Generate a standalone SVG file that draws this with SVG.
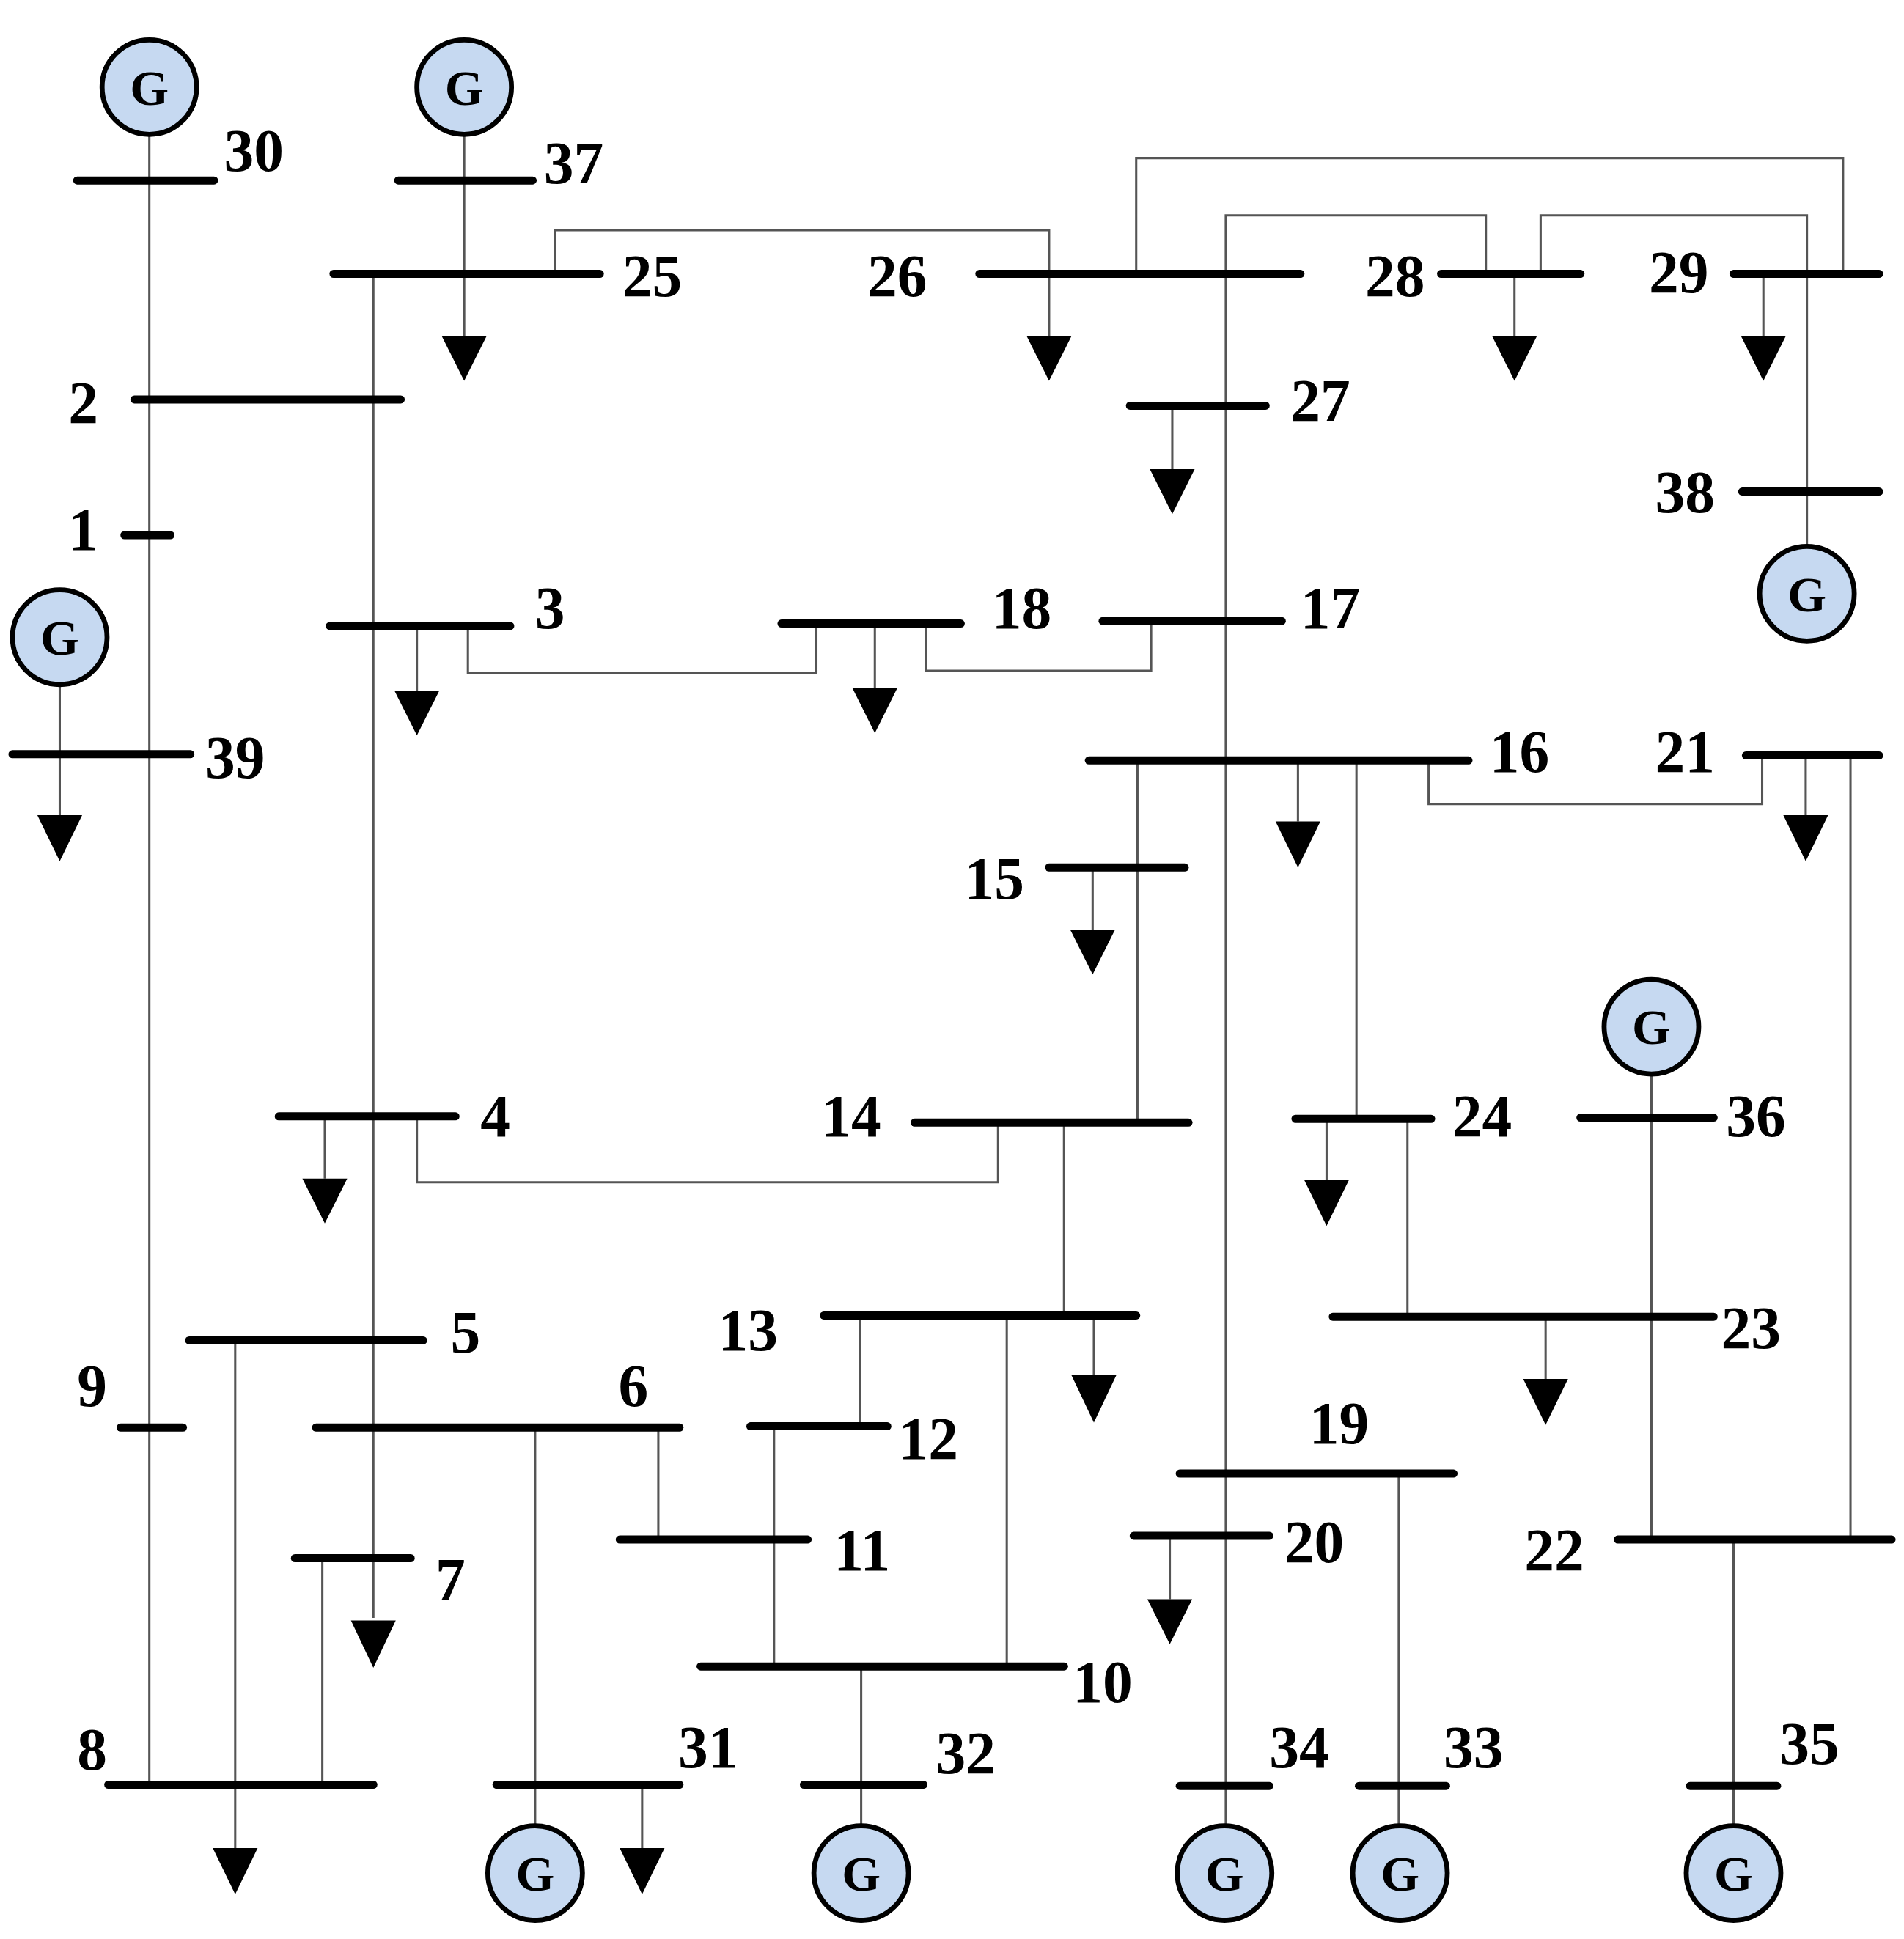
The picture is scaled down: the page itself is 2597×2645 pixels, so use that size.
<svg xmlns="http://www.w3.org/2000/svg" width="2597" height="2645" viewBox="0 0 2597 2645">
<defs>
<style>
.bus{stroke:#000;stroke-width:6.5;stroke-linecap:round}
.ln{stroke:#555;stroke-width:1.8;fill:none}
.g circle{fill:#c6d9f1;stroke:#000;stroke-width:4}
.g text,.lb{font-family:"Liberation Serif",serif;font-weight:bold;fill:#000}
.g text{font-size:40px;text-anchor:middle}
.lb{font-size:48px}
.ld{fill:#000}
</style>
</defs>
<rect width="2597" height="2645" fill="#fff"/>
<g transform="scale(1.6974,1.6977)">
<g id="connectors">
<path class="ln" d="M120 108V1434M373 108V270M300 220V1300M446 220V185H843V270M913 220V127H1481V220M1194 220V173H985V1467M1238 220V173H1452V438M1217 220V270M1417 220V270M942 326V377M335 503V555M376 503V541H656V501M703 501V553M744 501V539H925V499M48 550V655M1043 611V660M914 611V902M1090 611V899M1148 611V646H1416V607M1451 607V655M1487 607V1237M878 697V747M261 897V947M335 897V950H802V902M855 902V1057M1066 899V948M1131 899V1058M1327 863V1237M1242 1058V1108M879 1057V1105M691 1057V1146M809 1057V1339M189 1077V1485M430 1147V1467M529 1147V1237M622 1146V1339M259 1252V1434M692 1339V1467M516 1434V1485M1124 1184V1467M940 1234V1285M1393 1237V1467"/>
<g class="ld">
<path d="M355 270h36l-18 36z"/><path d="M282 1302h36l-18 38z"/><path d="M825 270h36l-18 36z"/><path d="M1199 270h36l-18 36z"/><path d="M1399 270h36l-18 36z"/><path d="M924 377h36l-18 36z"/><path d="M317 555h36l-18 36z"/><path d="M685 553h36l-18 36z"/><path d="M30 655h36l-18 37z"/><path d="M1025 660h36l-18 37z"/><path d="M1433 655h36l-18 37z"/><path d="M860 747h36l-18 36z"/><path d="M243 947h36l-18 36z"/><path d="M1048 948h36l-18 37z"/><path d="M1224 1108h36l-18 37z"/><path d="M861 1105h36l-18 38z"/><path d="M171 1485h36l-18 37z"/><path d="M498 1485h36l-18 37z"/><path d="M922 1285h36l-18 36z"/>
</g>
</g>
<g id="bus30"><line class="bus" x1="62" y1="145" x2="172" y2="145"/><text class="lb" x="180" y="137">30</text></g>
<g id="bus37"><line class="bus" x1="320" y1="145" x2="428" y2="145"/><text class="lb" x="437" y="147">37</text></g>
<g id="bus25"><line class="bus" x1="268" y1="220" x2="482" y2="220"/><text class="lb" x="500" y="238">25</text></g>
<g id="bus26"><line class="bus" x1="787" y1="220" x2="1045" y2="220"/><text class="lb" x="697" y="238">26</text></g>
<g id="bus28"><line class="bus" x1="1158" y1="220" x2="1270" y2="220"/><text class="lb" x="1097" y="238">28</text></g>
<g id="bus29"><line class="bus" x1="1393" y1="220" x2="1510" y2="220"/><text class="lb" x="1325" y="235">29</text></g>
<g id="bus2"><line class="bus" x1="108" y1="321" x2="322" y2="321"/><text class="lb" x="55" y="340">2</text></g>
<g id="bus1"><line class="bus" x1="100" y1="430" x2="137" y2="430"/><text class="lb" x="55" y="442">1</text></g>
<g id="bus27"><line class="bus" x1="908" y1="326" x2="1017" y2="326"/><text class="lb" x="1037" y="338">27</text></g>
<g id="bus38"><line class="bus" x1="1400" y1="395" x2="1510" y2="395"/><text class="lb" x="1330" y="412">38</text></g>
<g id="bus3"><line class="bus" x1="265" y1="503" x2="410" y2="503"/><text class="lb" x="430" y="505">3</text></g>
<g id="bus18"><line class="bus" x1="628" y1="501" x2="772" y2="501"/><text class="lb" x="797" y="505">18</text></g>
<g id="bus17"><line class="bus" x1="886" y1="499" x2="1030" y2="499"/><text class="lb" x="1045" y="505">17</text></g>
<g id="bus39"><line class="bus" x1="10" y1="606" x2="153" y2="606"/><text class="lb" x="165" y="625">39</text></g>
<g id="bus16"><line class="bus" x1="875" y1="611" x2="1180" y2="611"/><text class="lb" x="1197" y="620">16</text></g>
<g id="bus21"><line class="bus" x1="1403" y1="607" x2="1510" y2="607"/><text class="lb" x="1330" y="620">21</text></g>
<g id="bus15"><line class="bus" x1="843" y1="697" x2="952" y2="697"/><text class="lb" x="775" y="722">15</text></g>
<g id="bus4"><line class="bus" x1="224" y1="897" x2="366" y2="897"/><text class="lb" x="386" y="913">4</text></g>
<g id="bus14"><line class="bus" x1="735" y1="902" x2="955" y2="902"/><text class="lb" x="660" y="913">14</text></g>
<g id="bus24"><line class="bus" x1="1041" y1="899" x2="1150" y2="899"/><text class="lb" x="1167" y="913">24</text></g>
<g id="bus36"><line class="bus" x1="1270" y1="898" x2="1377" y2="898"/><text class="lb" x="1387" y="913">36</text></g>
<g id="bus13"><line class="bus" x1="662" y1="1057" x2="913" y2="1057"/><text class="lb" x="577" y="1085">13</text></g>
<g id="bus23"><line class="bus" x1="1071" y1="1058" x2="1377" y2="1058"/><text class="lb" x="1383" y="1083">23</text></g>
<g id="bus5"><line class="bus" x1="152" y1="1077" x2="340" y2="1077"/><text class="lb" x="362" y="1087">5</text></g>
<g id="bus9"><line class="bus" x1="97" y1="1147" x2="147" y2="1147"/><text class="lb" x="62" y="1130">9</text></g>
<g id="bus6"><line class="bus" x1="254" y1="1147" x2="546" y2="1147"/><text class="lb" x="497" y="1130">6</text></g>
<g id="bus12"><line class="bus" x1="603" y1="1146" x2="713" y2="1146"/><text class="lb" x="722" y="1172">12</text></g>
<g id="bus19"><line class="bus" x1="948" y1="1184" x2="1168" y2="1184"/><text class="lb" x="1052" y="1160">19</text></g>
<g id="bus20"><line class="bus" x1="911" y1="1234" x2="1020" y2="1234"/><text class="lb" x="1032" y="1255">20</text></g>
<g id="bus11"><line class="bus" x1="498" y1="1237" x2="649" y2="1237"/><text class="lb" x="670" y="1262">11</text></g>
<g id="bus22"><line class="bus" x1="1300" y1="1237" x2="1520" y2="1237"/><text class="lb" x="1225" y="1262">22</text></g>
<g id="bus7"><line class="bus" x1="237" y1="1252" x2="330" y2="1252"/><text class="lb" x="350" y="1285">7</text></g>
<g id="bus10"><line class="bus" x1="563" y1="1339" x2="855" y2="1339"/><text class="lb" x="862" y="1368">10</text></g>
<g id="bus8"><line class="bus" x1="87" y1="1434" x2="300" y2="1434"/><text class="lb" x="62" y="1422">8</text></g>
<g id="bus31"><line class="bus" x1="399" y1="1434" x2="546" y2="1434"/><text class="lb" x="545" y="1420">31</text></g>
<g id="bus32"><line class="bus" x1="646" y1="1434" x2="742" y2="1434"/><text class="lb" x="752" y="1425">32</text></g>
<g id="bus34"><line class="bus" x1="948" y1="1435" x2="1020" y2="1435"/><text class="lb" x="1020" y="1420">34</text></g>
<g id="bus33"><line class="bus" x1="1092" y1="1435" x2="1162" y2="1435"/><text class="lb" x="1160" y="1420">33</text></g>
<g id="bus35"><line class="bus" x1="1358" y1="1435" x2="1428" y2="1435"/><text class="lb" x="1430" y="1417">35</text></g>
<g id="gen30" class="g"><circle cx="120" cy="70" r="38"/><text x="120" y="84">G</text></g>
<g id="gen37" class="g"><circle cx="373" cy="70" r="38"/><text x="373" y="84">G</text></g>
<g id="gen39" class="g"><circle cx="48" cy="512" r="38"/><text x="48" y="526">G</text></g>
<g id="gen38" class="g"><circle cx="1452" cy="477" r="38"/><text x="1452" y="491">G</text></g>
<g id="gen36" class="g"><circle cx="1327" cy="825" r="38"/><text x="1327" y="839">G</text></g>
<g id="gen31" class="g"><circle cx="430" cy="1505" r="38"/><text x="430" y="1519">G</text></g>
<g id="gen32" class="g"><circle cx="692" cy="1505" r="38"/><text x="692" y="1519">G</text></g>
<g id="gen34" class="g"><circle cx="984" cy="1505" r="38"/><text x="984" y="1519">G</text></g>
<g id="gen33" class="g"><circle cx="1125" cy="1505" r="38"/><text x="1125" y="1519">G</text></g>
<g id="gen35" class="g"><circle cx="1393" cy="1505" r="38"/><text x="1393" y="1519">G</text></g>
</g>
</svg>
